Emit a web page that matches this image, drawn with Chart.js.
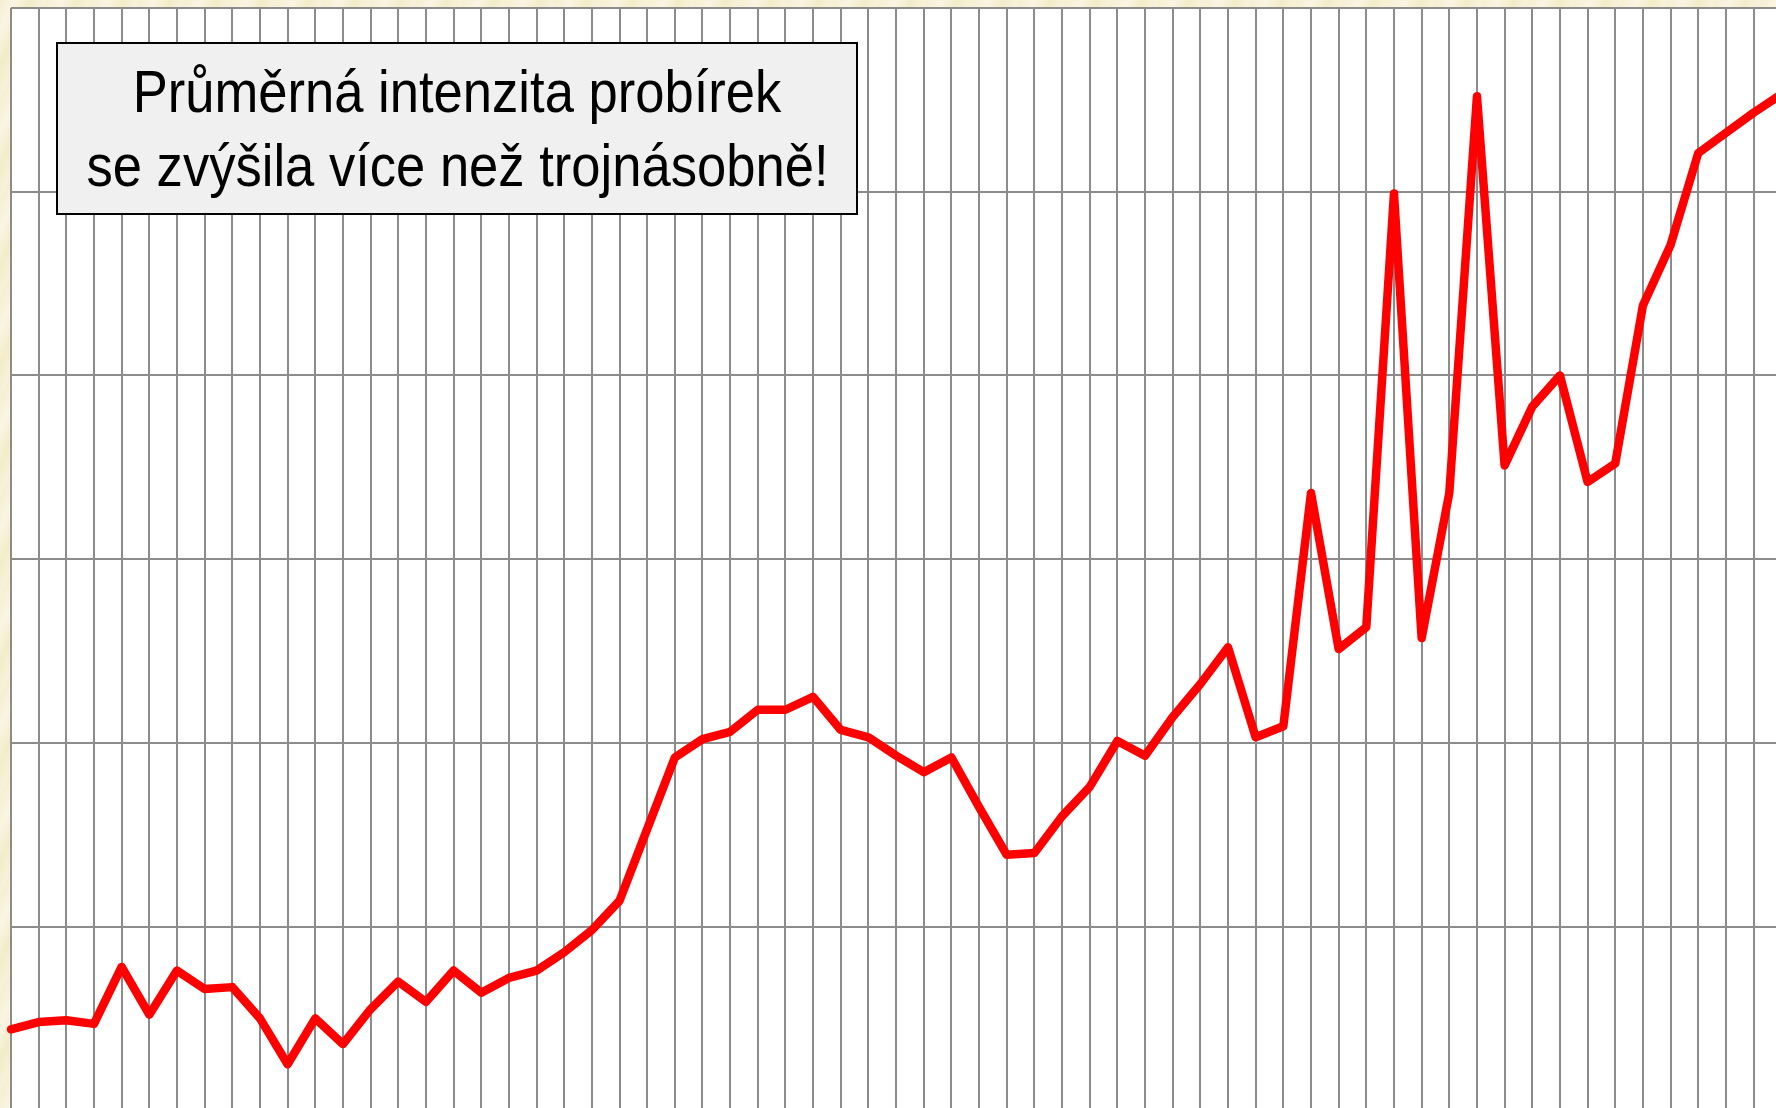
<!DOCTYPE html>
<html lang="cs">
<head>
  <meta charset="UTF-8">
  <title>Průměrná intenzita probírek</title>
  <script src="https://cdn.jsdelivr.net/npm/chart.js@4/dist/chart.umd.min.js"></script>
  <style>
    html, body {
      margin: 0;
      padding: 0;
      width: 1776px;
      height: 1108px;
      overflow: hidden;
      background: repeating-linear-gradient(115deg, #f6efd2 0px, #faf5e3 14px, #f3ecc9 28px, #f8f2dc 42px);
    }
    #wrap { position: relative; width: 1776px; height: 1108px; }
    #chart { position: absolute; left: 0; top: 0; }
    .note {
      position: absolute;
      left: 56px;
      top: 42px;
      width: 802px;
      height: 173px;
      box-sizing: border-box;
      background: #f0f0f0;
      border: 2px solid #000;
      font-family: "Liberation Sans", Arial, sans-serif;
      font-size: 59px;
      line-height: 74px;
      color: #000;
      display: flex;
      flex-direction: column;
      justify-content: center;
      align-items: center;
      overflow: hidden;
    }
    .note span {
      display: block;
      white-space: nowrap;
      transform-origin: center center;
    }
  </style>
</head>
<body>
  <div id="wrap">
    <canvas id="chart" width="1800" height="1120"></canvas>
    <div class="note">
      <span>Průměrná intenzita probírek</span>
      <span id="noteLine2">se zvýšila více než trojnásobně!</span>
    </div>
  </div>

  <script>
    // periods along the x axis (one per vertical grid line)
    const periods = ['1','2','3','4','5','6','7','8','9','10','11','12','13','14','15','16','17','18','19','20',
      '21','22','23','24','25','26','27','28','29','30','31','32','33','34','35','36','37','38','39','40',
      '41','42','43','44','45','46','47','48','49','50','51','52','53','54','55','56','57','58','59','60',
      '61','62','63','64','65'];

    // average thinning intensity
    const intensity = [4.4, 4.8, 4.9, 4.7, 7.8, 5.2, 7.6, 6.6, 6.7, 5.0,
      2.5, 5.0, 3.6, 5.5, 7.0, 5.9, 7.6, 6.4, 7.2, 7.6,
      8.6, 9.8, 11.4, 15.3, 19.2, 20.2, 20.6, 21.8, 21.8, 22.5,
      20.7, 20.3, 19.3, 18.4, 19.2, 16.5, 13.9, 14.0, 16.0, 17.6,
      20.1, 19.3, 21.4, 23.2, 25.2, 20.3, 20.9, 33.6, 25.1, 26.3,
      49.9, 25.7, 33.6, 55.2, 35.1, 38.3, 40.0, 34.2, 35.2, 43.8,
      47.1, 52.1, 53.2, 54.3, 55.3];

    const yMin = 0;
    const yMax = 60;
    const yStep = 10;

    // condensed look of the note text: squeeze both lines by the same factor
    const line2 = document.getElementById('noteLine2');
    const squeeze = 742 / line2.getBoundingClientRect().width;
    document.querySelectorAll('.note span').forEach(s => {
      s.style.transform = 'scaleX(' + squeeze + ')';
    });

    // white plot background
    const plotBg = {
      id: 'plotBg',
      beforeDraw(chart) {
        const { ctx, chartArea } = chart;
        ctx.save();
        ctx.fillStyle = '#ffffff';
        ctx.fillRect(chartArea.left, chartArea.top, chartArea.right - chartArea.left, chartArea.bottom - chartArea.top);
        ctx.restore();
      }
    };

    const ctx = document.getElementById('chart').getContext('2d');
    new Chart(ctx, {
      type: 'line',
      data: {
        labels: periods,
        datasets: [{
          label: 'Průměrná intenzita probírek',
          data: intensity,
          borderColor: '#ff0000',
          borderWidth: 8.5,
          borderJoinStyle: 'round',
          borderCapStyle: 'round',
          pointRadius: 0,
          tension: 0,
          fill: false
        }]
      },
      options: {
        responsive: false,
        animation: false,
        devicePixelRatio: 1,
        layout: { padding: { left: 11, top: 8, right: 18.8, bottom: 9.8 } },
        plugins: {
          legend: { display: false },
          tooltip: { enabled: false },
          title: { display: false }
        },
        scales: {
          x: {
            type: 'category',
            offset: false,
            border: { display: false },
            grid: { color: '#8c8c8c', lineWidth: 2, drawTicks: false, tickLength: 0 },
            ticks: { display: false, autoSkip: false }
          },
          y: {
            min: yMin,
            max: yMax,
            border: { display: false },
            grid: { color: '#8c8c8c', lineWidth: 2, drawTicks: false, tickLength: 0 },
            ticks: { display: false, stepSize: yStep }
          }
        }
      },
      plugins: [plotBg]
    });
  </script>
</body>
</html>
